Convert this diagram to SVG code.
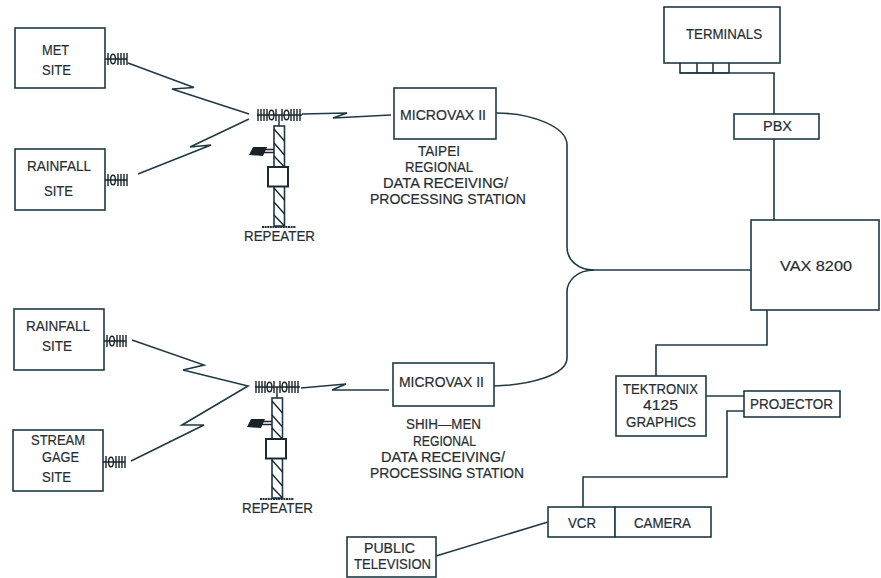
<svg xmlns="http://www.w3.org/2000/svg" width="881" height="578" viewBox="0 0 881 578">
<style>
.b{fill:#fff;stroke:#1f3a44;stroke-width:1.6}
.c{fill:none;stroke:#1f3a44;stroke-width:1.6;stroke-linejoin:miter}
.a{fill:none;stroke:#1a262c;stroke-width:1.4}
text{font-family:"Liberation Sans",Arial,sans-serif;font-size:14px;fill:#262e33;stroke:#262e33;stroke-width:.2}
</style>
<defs>
<g id="site-ant" class="a">
<path d="M0 0H22M3-6V6M13-6V6M16-6V6M19-6V6M22-6V6"/>
<ellipse cx="8" cy="0" rx="2.4" ry="4.8"/>
</g>
<g id="tower">
<path class="a" d="M-22 0H23M-21-6V6M-18-6V6M-15-6V6M-12-6V6M-3-6V6M3-6V6M12-6V6M15-6V6M18-6V6M21-6V6M0 0V11"/>
<ellipse class="a" cx="-7.500" cy="0" rx="2.400" ry="4.800"/>
<ellipse class="a" cx="7.500" cy="0" rx="2.400" ry="4.800"/>
<rect class="c" x="-5" y="11" width="10.500" height="100"/>
<path class="a" d="M-5 14L5.500 26M-5 28L5.500 40M-5 41L5.500 52M-5 73L5.500 85M-5 87L5.500 99M-5 100L5.500 111"/>
<path class="a" d="M-15 34.500H-5M-15 37.500H-5"/>
<polygon points="-30,40 -26,32 -12,32 -16,41" fill="#1a2226"/>
<rect x="-11" y="52" width="20" height="19.500" fill="#fff" stroke="#1a2a30" stroke-width="2"/>
<path d="M-17 112H17" stroke="#1f2c33" stroke-width="2.200" stroke-dasharray="2 .6"/>
</g>
</defs>
<rect width="881" height="578" fill="#fff"/>
<g id="connectors">
<path class="c" d="M128 63L194 87.500L172 89L249 114"/>
<path class="c" d="M138 174L211 145L190 147L249 119"/>
<path class="c" d="M132 340L204 365L183 370L248 386L182 425L204 425L131 461"/>
<path class="c" d="M302 114L347 113L333 118L391 115"/>
<path class="c" d="M301 388L346 384L332 390L389 390"/>
<path class="c" d="M496 113C530 113 567 126 567 145V247C567 260 578 270 594 270H751"/>
<path class="c" d="M494 386C530 385 567 375 567 358V292C567 280 578 270 594 270"/>
<path class="c" d="M680 73H774V114M774 139V220"/>
<path class="c" d="M767 310V345H656V376"/>
<path class="c" d="M706 396H744M744 411H727V477H583V507"/>
<path class="c" d="M436 556L548 522"/>
</g>
<g id="met-site"><rect class="b" x="15" y="28" width="90" height="60"/><use href="#site-ant" x="105" y="59"/><text x="42" y="55" textLength="27" lengthAdjust="spacingAndGlyphs">MET</text><text x="42" y="75" textLength="29" lengthAdjust="spacingAndGlyphs">SITE</text></g>
<g id="rainfall-site-1"><rect class="b" x="15" y="149" width="90" height="61"/><use href="#site-ant" x="105" y="180"/><text x="27" y="171" textLength="64" lengthAdjust="spacingAndGlyphs">RAINFALL</text><text x="44" y="196" textLength="29" lengthAdjust="spacingAndGlyphs">SITE</text></g>
<g id="rainfall-site-2"><rect class="b" x="14" y="309" width="90" height="61"/><use href="#site-ant" x="104" y="341"/><text x="26" y="331" textLength="64" lengthAdjust="spacingAndGlyphs">RAINFALL</text><text x="42" y="351" textLength="30" lengthAdjust="spacingAndGlyphs">SITE</text></g>
<g id="stream-gage-site"><rect class="b" x="13" y="430" width="90" height="61"/><use href="#site-ant" x="103" y="462"/><text x="31" y="445" textLength="54" lengthAdjust="spacingAndGlyphs">STREAM</text><text x="42" y="462" textLength="37" lengthAdjust="spacingAndGlyphs">GAGE</text><text x="42" y="482" textLength="29" lengthAdjust="spacingAndGlyphs">SITE</text></g>
<g id="repeater-1"><use href="#tower" x="279" y="115"/><text x="244" y="241" textLength="71" lengthAdjust="spacingAndGlyphs">REPEATER</text></g>
<g id="repeater-2"><use href="#tower" x="277" y="387"/><text x="242" y="513" textLength="71" lengthAdjust="spacingAndGlyphs">REPEATER</text></g>
<g id="microvax-taipei"><rect class="b" x="394" y="88" width="102" height="51"/><text x="400" y="120" textLength="86" lengthAdjust="spacingAndGlyphs">MICROVAX II</text>
<text x="418" y="156" textLength="42" lengthAdjust="spacingAndGlyphs">TAIPEI</text><text x="405" y="172" textLength="68" lengthAdjust="spacingAndGlyphs">REGIONAL</text><text x="383" y="188" textLength="125" lengthAdjust="spacingAndGlyphs">DATA RECEIVING/</text><text x="370" y="204" textLength="156" lengthAdjust="spacingAndGlyphs">PROCESSING STATION</text></g>
<g id="microvax-shihmen"><rect class="b" x="393" y="363" width="101" height="43"/><text x="399" y="387" textLength="85" lengthAdjust="spacingAndGlyphs">MICROVAX II</text>
<text x="406" y="429" textLength="75" lengthAdjust="spacingAndGlyphs">SHIH—MEN</text><text x="413" y="446" textLength="63" lengthAdjust="spacingAndGlyphs">REGIONAL</text><text x="381" y="462" textLength="124" lengthAdjust="spacingAndGlyphs">DATA RECEIVING/</text><text x="370" y="478" textLength="154" lengthAdjust="spacingAndGlyphs">PROCESSING STATION</text></g>
<g id="terminals"><rect class="b" x="664" y="7" width="116" height="56"/><path class="c" d="M680 63V73H729V63M697 63V73M713 63V73"/><text x="686" y="39" textLength="76" lengthAdjust="spacingAndGlyphs">TERMINALS</text></g>
<g id="pbx"><rect class="b" x="734" y="114" width="85" height="25"/><text x="763" y="131" textLength="29" lengthAdjust="spacingAndGlyphs">PBX</text></g>
<g id="vax-8200"><rect class="b" x="751" y="220" width="128" height="90"/><text x="780" y="271" textLength="72" lengthAdjust="spacingAndGlyphs">VAX 8200</text></g>
<g id="tektronix"><rect class="b" x="616" y="376" width="90" height="60"/><text x="623" y="394" textLength="75" lengthAdjust="spacingAndGlyphs">TEKTRONIX</text><text x="643" y="410" textLength="35" lengthAdjust="spacingAndGlyphs">4125</text><text x="626" y="427" textLength="70" lengthAdjust="spacingAndGlyphs">GRAPHICS</text></g>
<g id="projector"><rect class="b" x="744" y="391" width="96" height="26"/><text x="750" y="409" textLength="83" lengthAdjust="spacingAndGlyphs">PROJECTOR</text></g>
<g id="vcr"><rect class="b" x="548" y="507" width="67" height="30"/><text x="568" y="528" textLength="28" lengthAdjust="spacingAndGlyphs">VCR</text></g>
<g id="camera"><rect class="b" x="615" y="507" width="96" height="30"/><text x="634" y="528" textLength="57" lengthAdjust="spacingAndGlyphs">CAMERA</text></g>
<g id="public-television"><rect class="b" x="347" y="537" width="89" height="40"/><text x="364" y="553" textLength="51" lengthAdjust="spacingAndGlyphs">PUBLIC</text><text x="354" y="569" textLength="77" lengthAdjust="spacingAndGlyphs">TELEVISION</text></g>
</svg>
